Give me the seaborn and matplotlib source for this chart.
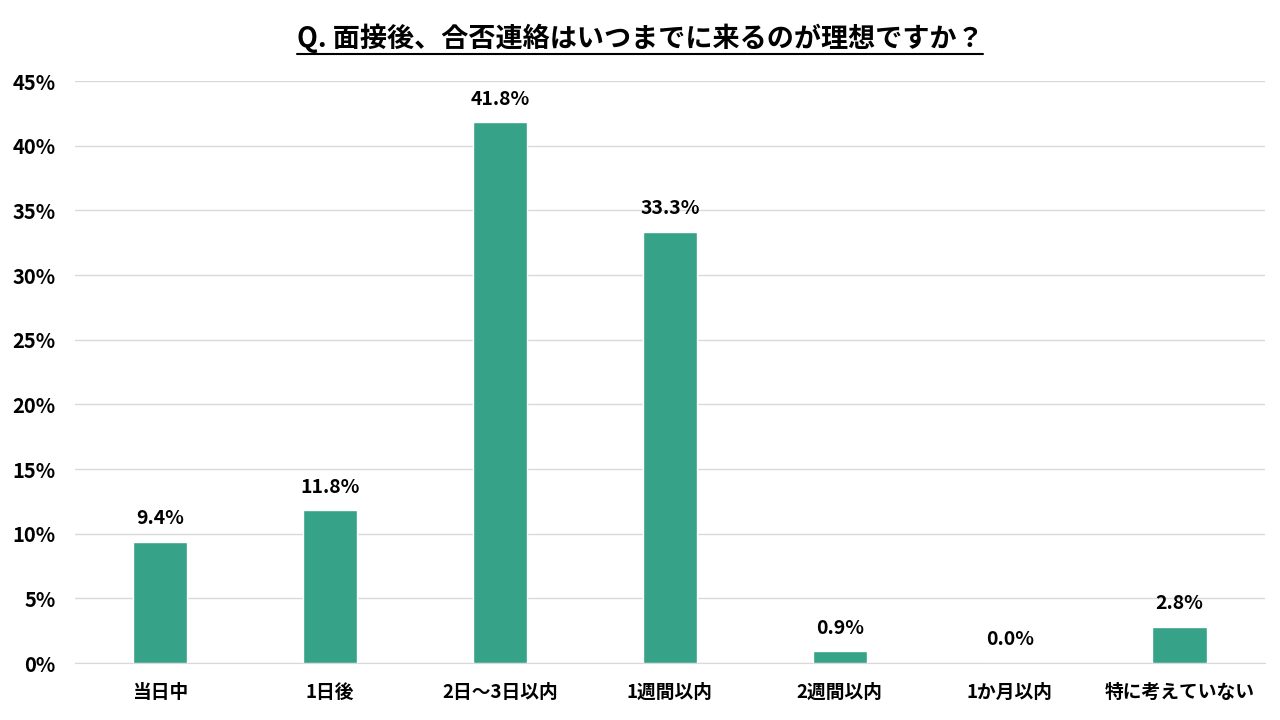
import matplotlib
matplotlib.use('Agg')
import matplotlib.pyplot as plt
import seaborn as sns
import pandas as pd
from matplotlib.lines import Line2D

categories = ['当日中', '1日後', '2日～3日以内', '1週間以内', '2週間以内', '1か月以内', '特に考えていない']
values = [9.4, 11.8, 41.8, 33.3, 0.9, 0.0, 2.8]
title = 'Q. 面接後、合否連絡はいつまでに来るのが理想ですか？'
bar_color = '#36A287'

sns.set_style('white')
plt.rcParams['font.family'] = ['Noto Sans CJK JP', 'DejaVu Sans']
plt.rcParams['text.color'] = 'black'
plt.rcParams['xtick.color'] = 'black'
plt.rcParams['ytick.color'] = 'black'

df = pd.DataFrame({'cat': categories, 'val': values})

fig = plt.figure(figsize=(12.8, 7.2), dpi=100)
ax = fig.add_axes([0.0586, 0.079, 0.9294, 0.8085])

sns.barplot(data=df, x='cat', y='val', color=bar_color, width=0.32,
            saturation=1, ax=ax, zorder=3)

ax.set_ylim(0, 45)
ax.set_yticks(range(0, 46, 5))
ax.set_yticklabels([f'{t}%' for t in range(0, 46, 5)], fontsize=14.5, fontweight='bold')
ax.set_xlim(-0.5, len(categories) - 0.5)
ax.grid(axis='y', color='#d9d9d9', linewidth=1, zorder=0)
for s in ['top', 'right', 'left']:
    ax.spines[s].set_visible(False)
ax.spines['bottom'].set_color('#d9d9d9')
ax.tick_params(axis='both', length=0)
ax.tick_params(axis='y', pad=14)
ax.tick_params(axis='x', pad=14)
for lbl in ax.get_xticklabels():
    lbl.set_fontsize(13.5)
    lbl.set_fontweight('bold')
ax.set_xlabel('')
ax.set_ylabel('')

for i, v in enumerate(values):
    ax.annotate(f'{v:.1f}%', (i, v), xytext=(0, 10), textcoords='offset points',
                ha='center', va='bottom', fontsize=14, fontweight='bold')

t = fig.text(0.5, 0.947, title, ha='center', va='center', fontsize=19.5, fontweight='bold')
fig.canvas.draw()
bb = t.get_window_extent().transformed(fig.transFigure.inverted())
fig.add_artist(Line2D([bb.x0, bb.x1], [bb.y0 - 0.002, bb.y0 - 0.002],
                      transform=fig.transFigure, color='black', linewidth=1.5))

fig.savefig('out.png', dpi=100)
